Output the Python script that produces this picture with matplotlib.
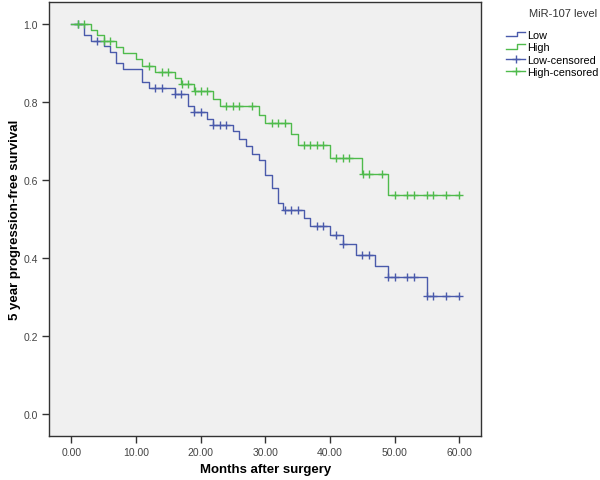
import numpy as np
import matplotlib
matplotlib.use('Agg')
from matplotlib import pyplot as plt
from matplotlib.lines import Line2D
from matplotlib.legend_handler import HandlerBase

plt.rcParams['font.family'] = ['Liberation Sans', 'DejaVu Sans']

# Kaplan-Meier steps (months, survival after the step)
end_time = 60
low_times = [0, 2, 3, 5, 6, 7, 8, 11, 12, 16, 18, 19, 21, 22, 25, 26, 27, 28, 29,
             30, 31, 32, 32.8, 36, 37, 40, 42, 44, 47, 49, 55]
low_surv = [1.0, 0.972, 0.956, 0.943, 0.927, 0.900, 0.883, 0.852, 0.836, 0.821,
            0.789, 0.773, 0.756, 0.740, 0.724, 0.705, 0.686, 0.667, 0.652, 0.613,
            0.578, 0.542, 0.524, 0.503, 0.482, 0.460, 0.436, 0.408, 0.380, 0.352, 0.302]
low_censor = [1, 4, 13, 14, 16.1, 17, 19, 20, 22, 23, 24, 33, 34, 35, 38, 39, 41,
              42, 45, 46, 49, 50, 52, 53, 55, 56, 58, 60]

high_times = [0, 3, 4, 5, 7, 8, 10, 11, 13, 16, 17, 19, 22, 23, 29, 30, 34, 35,
              40, 45, 49]
high_surv = [1.0, 0.985, 0.970, 0.956, 0.940, 0.925, 0.909, 0.893, 0.877, 0.861,
             0.845, 0.827, 0.808, 0.789, 0.767, 0.745, 0.718, 0.690, 0.656, 0.614, 0.562]
high_censor = [1, 2, 5, 6, 12, 14, 15, 17.2, 18, 19.2, 20, 21, 24, 25, 26, 28, 31,
               32, 33, 36, 37, 38, 39, 41, 42, 43, 45.1, 46, 48, 50, 52, 53, 55, 56,
               58, 60]

x_ticks = [0, 10, 20, 30, 40, 50, 60]
y_ticks = [0.0, 0.2, 0.4, 0.6, 0.8, 1.0]

blue = '#4a5aab'
green = '#4fbb4c'


class StepHandler(HandlerBase):
    def create_artists(self, legend, orig, x0, y0, w, h, fontsize, trans):
        xs = [x0, x0 + w * 0.55, x0 + w * 0.55, x0 + w]
        ys = [y0 + h * 0.2, y0 + h * 0.2, y0 + h * 0.8, y0 + h * 0.8]
        ln = Line2D(xs, ys, color=orig.get_color(), lw=1.0, transform=trans)
        return [ln]


def level_at(times, surv, t):
    i = np.searchsorted(times, t, side='right') - 1
    return np.asarray(surv)[i]


fig = plt.figure(figsize=(6, 4.81), dpi=100)
ax = fig.add_axes([0.082, 0.0915, 0.72, 0.9025])
ax.set_facecolor('#f0f0f0')

for times, surv, cens, col in [(low_times, low_surv, low_censor, blue),
                               (high_times, high_surv, high_censor, green)]:
    ax.step(list(times) + [end_time], list(surv) + [surv[-1]], where='post',
            color=col, lw=1.0)
    cy = [level_at(times, surv, t) for t in cens]
    ax.plot(cens, cy, ls='none', marker='+', ms=6, mew=1.0, color=col)

ax.set_xlim(-3.4, 63.4)
ax.set_ylim(-0.056, 1.056)
ax.set_xticks(x_ticks)
ax.set_xticklabels(['%.2f' % v for v in x_ticks])
ax.set_yticks(y_ticks)
ax.set_yticklabels(['%.1f' % v for v in y_ticks])
ax.tick_params(direction='out', length=5, width=1, colors='#333333',
               labelsize=7.5, labelcolor='#444444', pad=3)
for s in ax.spines.values():
    s.set_color('#333333')
    s.set_linewidth(1)

ax.set_xlabel('Months after surgery', fontsize=9.5, fontweight='bold', labelpad=4)
ax.set_ylabel('5 year progression-free survival', fontsize=9.5,
              fontweight='bold', labelpad=2)

fig.text(563 / 600, 1 - 14 / 481, 'MiR-107 level', ha='center', va='center',
         fontsize=8, color='#333333')

h_low = Line2D([], [], color=blue)
h_high = Line2D([], [], color=green)
h_lowc = Line2D([], [], color=blue, marker='+', ms=6, lw=1)
h_highc = Line2D([], [], color=green, marker='+', ms=6, lw=1)
leg = fig.legend([h_low, h_high, h_lowc, h_highc],
                 ['Low', 'High', 'Low-censored', 'High-censored'],
                 loc='upper left', bbox_to_anchor=(0.835, 0.947),
                 frameon=False, fontsize=7.8, handlelength=1.7,
                 handletextpad=0.2, labelspacing=0.22, borderpad=0,
                 handler_map={h_low: StepHandler(), h_high: StepHandler()})

fig.savefig('out.png', dpi=100)
